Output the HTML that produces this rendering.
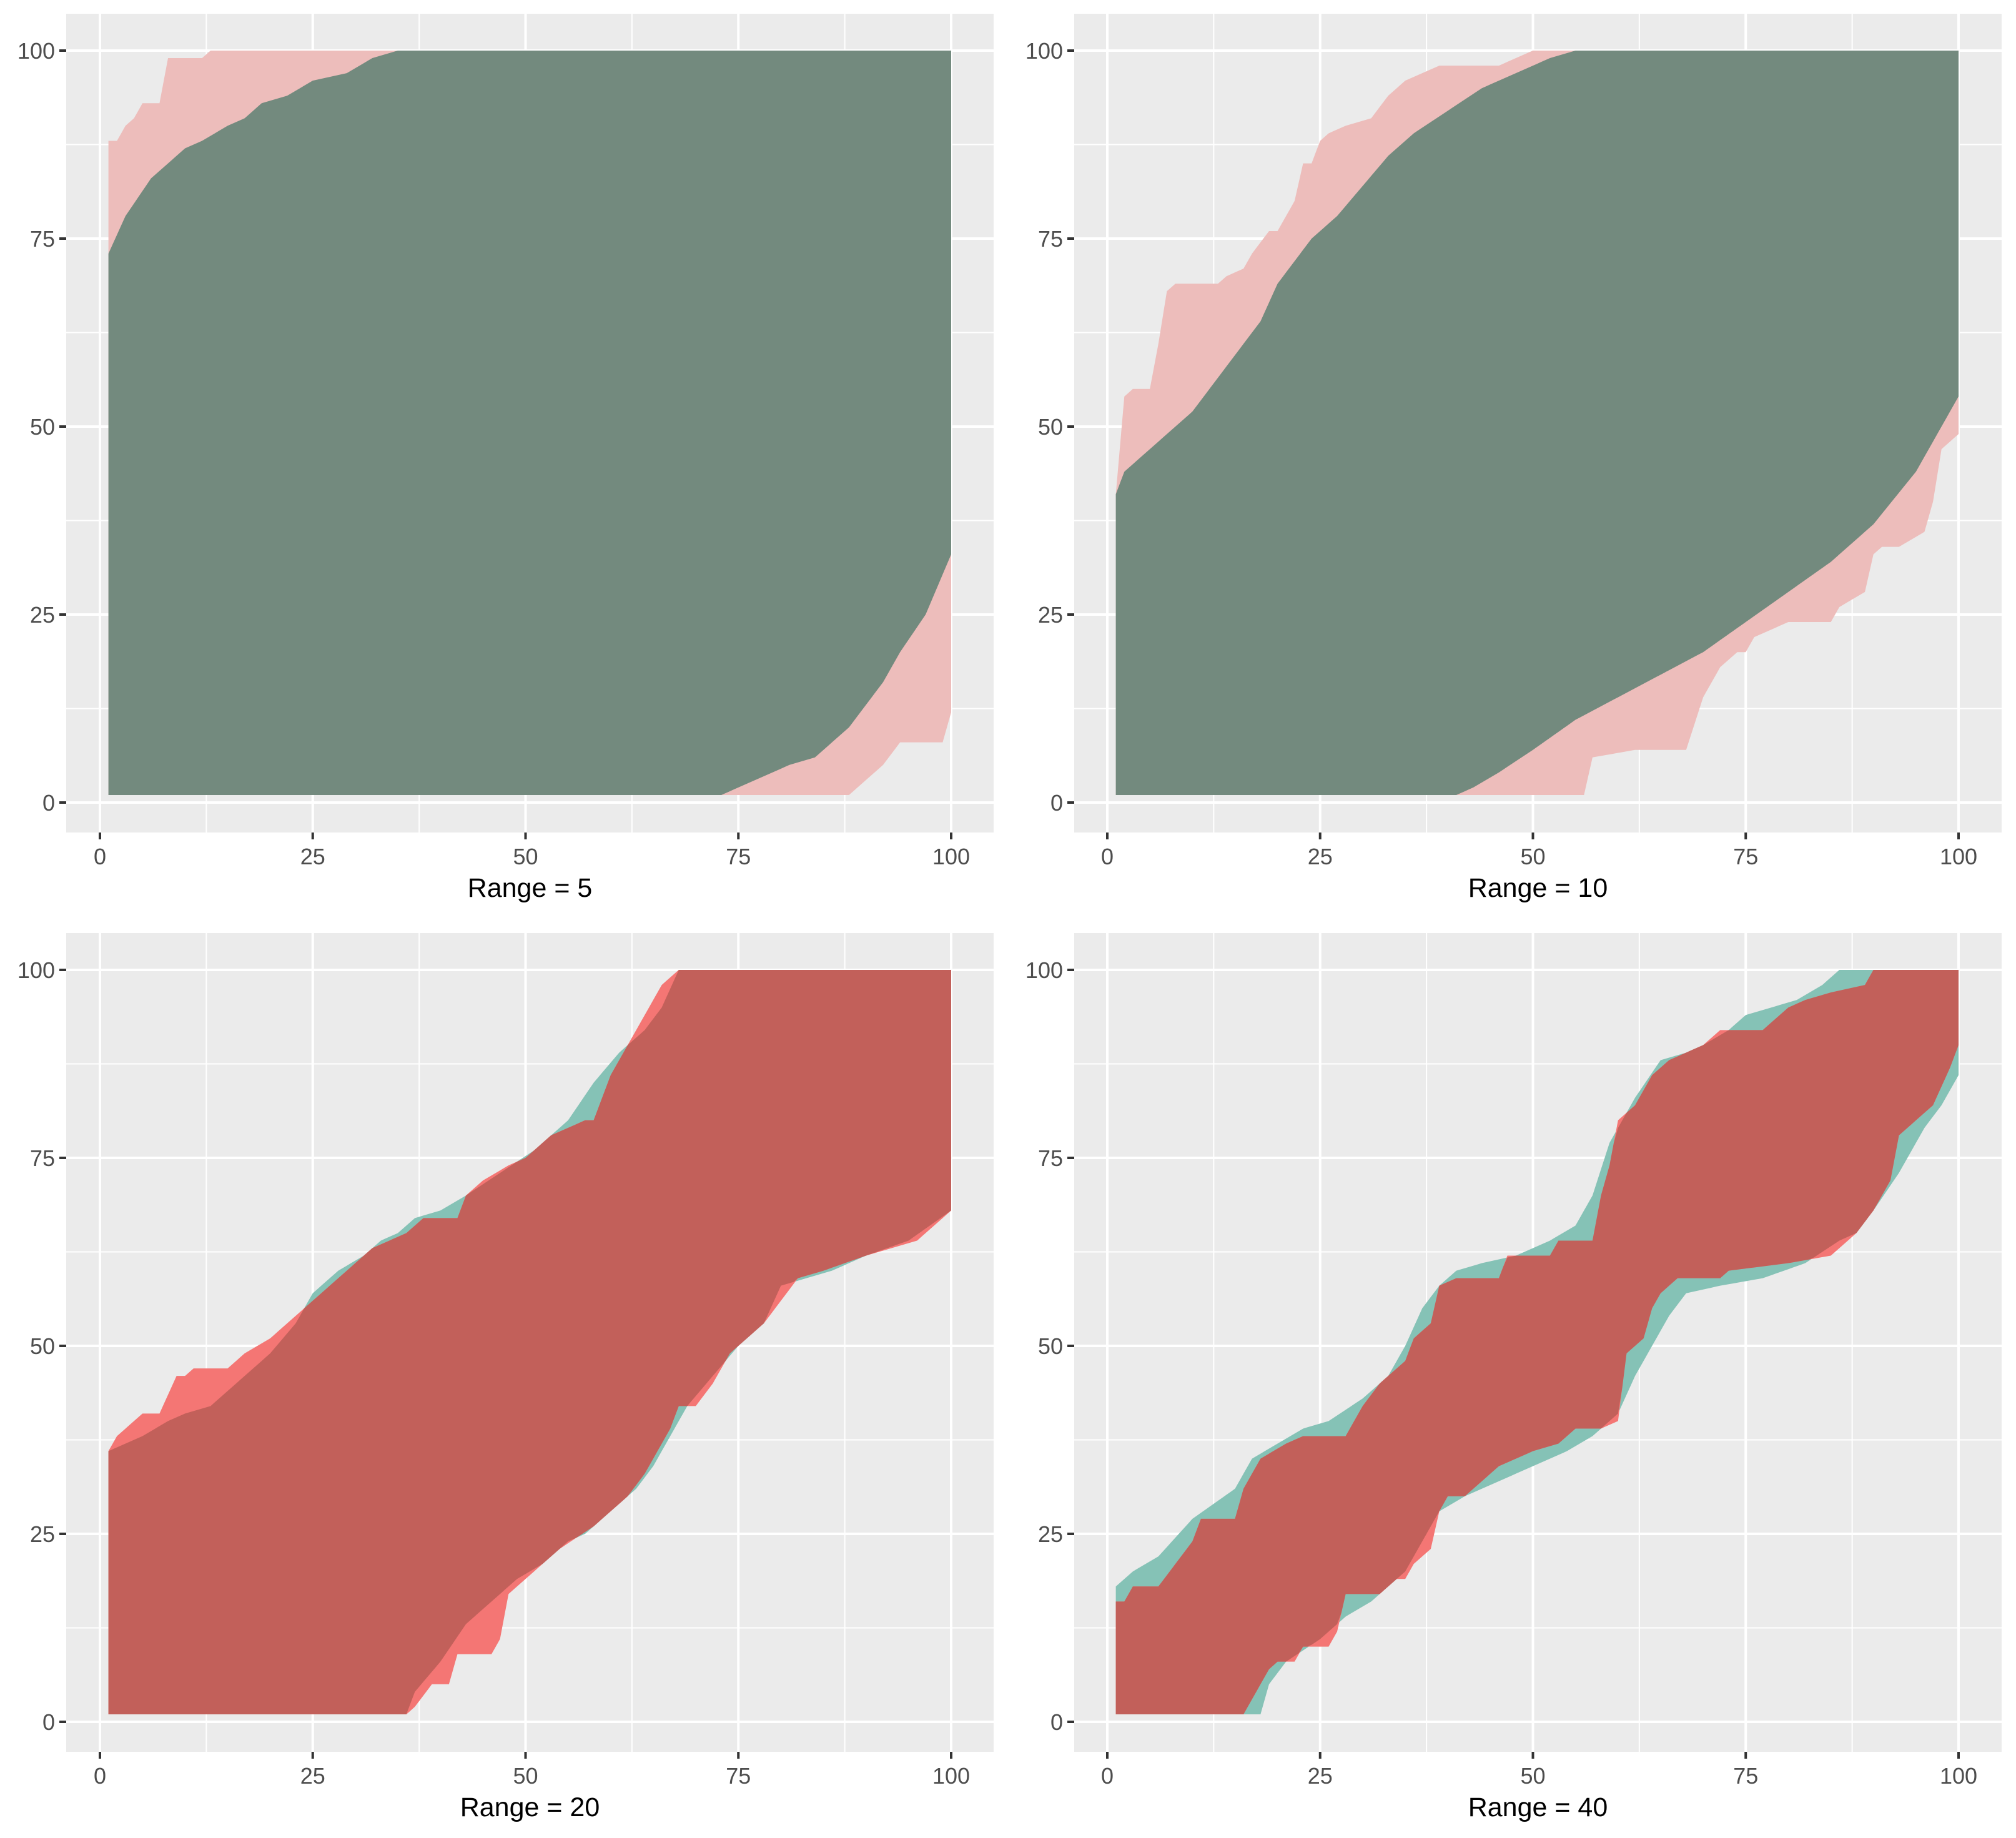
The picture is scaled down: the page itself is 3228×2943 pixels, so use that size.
<!DOCTYPE html>
<html><head><meta charset="utf-8"><style>
html,body{margin:0;padding:0;background:#fff;}
svg{display:block;font-family:"Liberation Sans",Arial,sans-serif;}
</style></head><body>
<svg id="chart" width="3228" height="2943" viewBox="0 0 3228 2943"></svg>
<script>
// ---- Data (x keypoints / y keypoints per series) ----
const xTicks=[0,25,50,75,100];
const yTicks=[0,25,50,75,100];
const titles=["Range = 5","Range = 10","Range = 20","Range = 40"];

// Panel 1 (Range = 5)
const p1OuterUpX=[1,2,3,4,5,7,8,12,13,100];
const p1OuterUpY=[88,88,90,91,93,93,99,99,100,100];
const p1OuterLoX=[1,88,90,92,94,99,100];
const p1OuterLoY=[1,1,3,5,8,8,12];
const p1InnerUpX=[1,3,6,10,12,15,17,19,22,25,29,32,35,100];
const p1InnerUpY=[73,78,83,87,88,90,91,93,94,96,97,99,100,100];
const p1InnerLoX=[1,73,75,77,79,81,84,86,88,90,92,94,97,100];
const p1InnerLoY=[1,1,2,3,4,5,6,8,10,13,16,20,25,33];

// Panel 2 (Range = 10)
const p2OuterUpX=[1,2,3,5,6,7,8,13,14,16,17,19,20,21,22,23,24,25,26,28,31,33,35,37,39,46,48,50,100];
const p2OuterUpY=[41,54,55,55,61,68,69,69,70,71,73,76,76,78,80,85,85,88,89,90,91,94,96,97,98,98,99,100,100];
const p2OuterLoX=[1,56,57,62,68,70,72,74,75,76,80,85,86,89,90,91,93,96,97,98,100];
const p2OuterLoY=[1,1,6,7,7,14,18,20,20,22,24,24,26,28,33,34,34,36,40,47,49];
const p2InnerUpX=[1,2,4,6,10,12,14,16,18,20,22,24,27,30,33,36,40,44,48,52,55,100];
const p2InnerUpY=[41,44,46,48,52,55,58,61,64,69,72,75,78,82,86,89,92,95,97,99,100,100];
const p2InnerLoX=[1,41,43,46,50,55,60,65,70,75,80,85,90,95,100];
const p2InnerLoY=[1,1,2,4,7,11,14,17,20,24,28,32,37,44,54];

// Panel 3 (Range = 20): red & teal series
const p3RedUpX=[1,2,5,7,9,10,11,15,17,20,22,24,26,30,32,34,36,38,42,43,45,48,50,53,57,58,60,63,65,66,68,100];
const p3RedUpY=[36,38,41,41,46,46,47,47,49,51,53,55,57,61,63,64,65,67,67,70,72,74,75,78,80,80,86,92,96,98,100,100];
const p3RedLoX=[1,36,37,39,41,42,46,47,48,50,52,54,58,60,62,64,66,67,68,70,72,74,76,78,80,82,85,90,93,96,98,100];
const p3RedLoY=[1,1,2,5,5,9,9,11,17,19,21,23,26,28,30,33,37,39,42,42,45,49,51,53,56,59,60,62,63,64,66,68];
const p3TealUpX=[1,5,8,10,13,16,20,23,25,26,28,31,33,35,37,40,43,47,51,55,58,61,64,66,68,100];
const p3TealUpY=[36,38,40,41,42,45,49,53,57,58,60,62,64,65,67,68,70,73,76,80,85,89,92,95,100,100];
const p3TealLoX=[1,36,37,40,43,46,49,52,55,57,60,63,65,67,69,72,75,78,80,83,86,90,95,100];
const p3TealLoY=[1,1,4,8,13,16,19,21,24,25,28,31,34,38,42,46,50,53,58,59,60,62,64,68];

// Panel 4 (Range = 40)
const p4RedUpX=[1,2,3,6,8,10,11,15,16,18,21,23,28,30,32,35,36,38,39,41,46,47,52,53,57,58,59,60,62,64,66,68,70,72,77,78,80,82,85,89,90,100];
const p4RedUpY=[16,16,18,18,21,24,27,27,31,35,37,38,38,42,45,48,51,53,58,59,59,62,62,64,64,70,74,80,82,86,88,89,90,92,92,93,95,96,97,98,100,100];
const p4RedLoX=[1,16,17,19,20,22,23,26,27,28,32,34,35,36,38,39,40,42,44,46,48,50,53,55,58,60,61,63,64,65,67,72,73,80,85,88,90,92,93,95,97,99,100];
const p4RedLoY=[1,1,3,7,8,8,10,10,12,17,17,19,19,21,23,28,30,30,32,34,35,36,37,39,39,40,49,51,55,57,59,59,60,61,62,65,68,72,78,80,82,87,90];
const p4TealUpX=[1,3,6,10,15,17,20,23,26,30,33,35,37,39,41,44,48,52,55,57,59,62,65,68,70,73,75,78,81,84,86,100];
const p4TealUpY=[18,20,22,27,31,35,37,39,40,43,46,50,55,58,60,61,62,64,66,70,77,83,88,89,90,92,94,95,96,98,100,100];
const p4TealLoX=[1,16,18,19,21,25,28,31,33,35,37,39,42,46,50,54,57,60,62,64,66,68,72,77,82,86,88,90,93,96,98,100];
const p4TealLoY=[1,1,1,5,8,11,14,16,18,20,24,28,30,32,34,36,38,41,46,50,54,57,58,59,61,64,65,68,73,79,82,86];

// ---- Layout ----
const NS="http://www.w3.org/2000/svg";
const svg=document.getElementById('chart');
const panels=[
 {left:106,right:1591,top:22,bottom:1333,x0:160,x100:1523,y100:81,y0:1285},
 {left:1720,right:3205,top:22,bottom:1333,x0:1773,x100:3136,y100:81,y0:1285},
 {left:106,right:1591,top:1494,bottom:2805,x0:160,x100:1523,y100:1553,y0:2757},
 {left:1720,right:3205,top:1494,bottom:2805,x0:1773,x100:3136,y100:1553,y0:2757}
];
function mk(tag,attrs,parent){const e=document.createElementNS(NS,tag);for(const k in attrs)e.setAttribute(k,attrs[k]);(parent||svg).appendChild(e);return e;}
function interp(xs,ys,x){
  if(x<=xs[0])return ys[0];
  for(let i=1;i<xs.length;i++){if(x<=xs[i]){const t=(x-xs[i-1])/(xs[i]-xs[i-1]);return ys[i-1]+t*(ys[i]-ys[i-1]);}}
  return ys[ys.length-1];
}
function ribbon(g,P,upF,loF,color,name){
  const sx=v=>P.x0+(v)*(P.x100-P.x0)/100, sy=v=>P.y0-(v)*(P.y0-P.y100)/100;
  const pts=[];
  for(let x=1;x<=100;x+=0.5)pts.push(sx(x)+','+sy(upF(x)));
  for(let x=100;x>=1;x-=0.5)pts.push(sx(x)+','+sy(loF(x)));
  const p=mk('polygon',{points:pts.join(' '),fill:color},g);
  
  
}
function drawPanel(i,layers){
  const P=panels[i];
  const g=mk('g',{});
  
  
  const bg=mk('rect',{x:P.left,y:P.top,width:P.right-P.left,height:P.bottom-P.top,fill:'#ebebeb'},g);
  
  
  const sx=v=>P.x0+v*(P.x100-P.x0)/100, sy=v=>P.y0-v*(P.y0-P.y100)/100;
  // minor grid
  for(let k=0;k<4;k++){const v=12.5+25*k;
    mk('line',{x1:sx(v),x2:sx(v),y1:P.top,y2:P.bottom,stroke:'#fff','stroke-width':2},g);
    mk('line',{x1:P.left,x2:P.right,y1:sy(v),y2:sy(v),stroke:'#fff','stroke-width':2},g);}
  xTicks.forEach(v=>{mk('line',{x1:sx(v),x2:sx(v),y1:P.top,y2:P.bottom,stroke:'#fff','stroke-width':4},g);});
  yTicks.forEach(v=>{mk('line',{x1:P.left,x2:P.right,y1:sy(v),y2:sy(v),stroke:'#fff','stroke-width':4},g);});
  layers(g,P);
  // axes ticks & labels
  xTicks.forEach(v=>{
    mk('line',{x1:sx(v),x2:sx(v),y1:P.bottom,y2:P.bottom+11,stroke:'#333','stroke-width':4},g);
    const t=mk('text',{x:sx(v),y:P.bottom+51,'text-anchor':'middle','font-size':36,fill:'#4d4d4d'},g);
    t.textContent=v;
    
    
  });
  yTicks.forEach(v=>{
    mk('line',{x1:P.left-11,x2:P.left,y1:sy(v),y2:sy(v),stroke:'#333','stroke-width':4},g);
    const t=mk('text',{x:P.left-18,y:sy(v)+13,'text-anchor':'end','font-size':36,fill:'#4d4d4d'},g);
    t.textContent=v;
    
    
  });
  const tt=mk('text',{x:(P.left+P.right)/2,y:P.bottom+103,'text-anchor':'middle','font-size':43,fill:'#000'},g);
  tt.textContent=titles[i];
  
  
}
function simple(g,P,oux,ouy,olx,oly,iux,iuy,ilx,ily,cOuter,cInner){
  ribbon(g,P,x=>interp(oux,ouy,x),x=>interp(olx,oly,x),cOuter,'outer-ribbon');
  ribbon(g,P,x=>interp(iux,iuy,x),x=>interp(ilx,ily,x),cInner,'inner-ribbon');
}
function overlap(g,P,rux,ruy,rlx,rly,tux,tuy,tlx,tly){
  const ru=x=>interp(rux,ruy,x), rl=x=>interp(rlx,rly,x), tu=x=>interp(tux,tuy,x), tl=x=>interp(tlx,tly,x);
  ribbon(g,P,tu,tl,'#85c2b6','teal-ribbon');
  ribbon(g,P,ru,rl,'#f47674','red-ribbon');
  ribbon(g,P,x=>Math.min(ru(x),tu(x)),x=>Math.max(rl(x),tl(x)),'#c2605a','overlap-ribbon');
}
drawPanel(0,(g,P)=>simple(g,P,p1OuterUpX,p1OuterUpY,p1OuterLoX,p1OuterLoY,p1InnerUpX,p1InnerUpY,p1InnerLoX,p1InnerLoY,'#edbdbb','#738a7e'));
drawPanel(1,(g,P)=>simple(g,P,p2OuterUpX,p2OuterUpY,p2OuterLoX,p2OuterLoY,p2InnerUpX,p2InnerUpY,p2InnerLoX,p2InnerLoY,'#edbdbb','#738a7e'));
drawPanel(2,(g,P)=>overlap(g,P,p3RedUpX,p3RedUpY,p3RedLoX,p3RedLoY,p3TealUpX,p3TealUpY,p3TealLoX,p3TealLoY));
drawPanel(3,(g,P)=>overlap(g,P,p4RedUpX,p4RedUpY,p4RedLoX,p4RedLoY,p4TealUpX,p4TealUpY,p4TealLoX,p4TealLoY));
</script>
</body></html>
